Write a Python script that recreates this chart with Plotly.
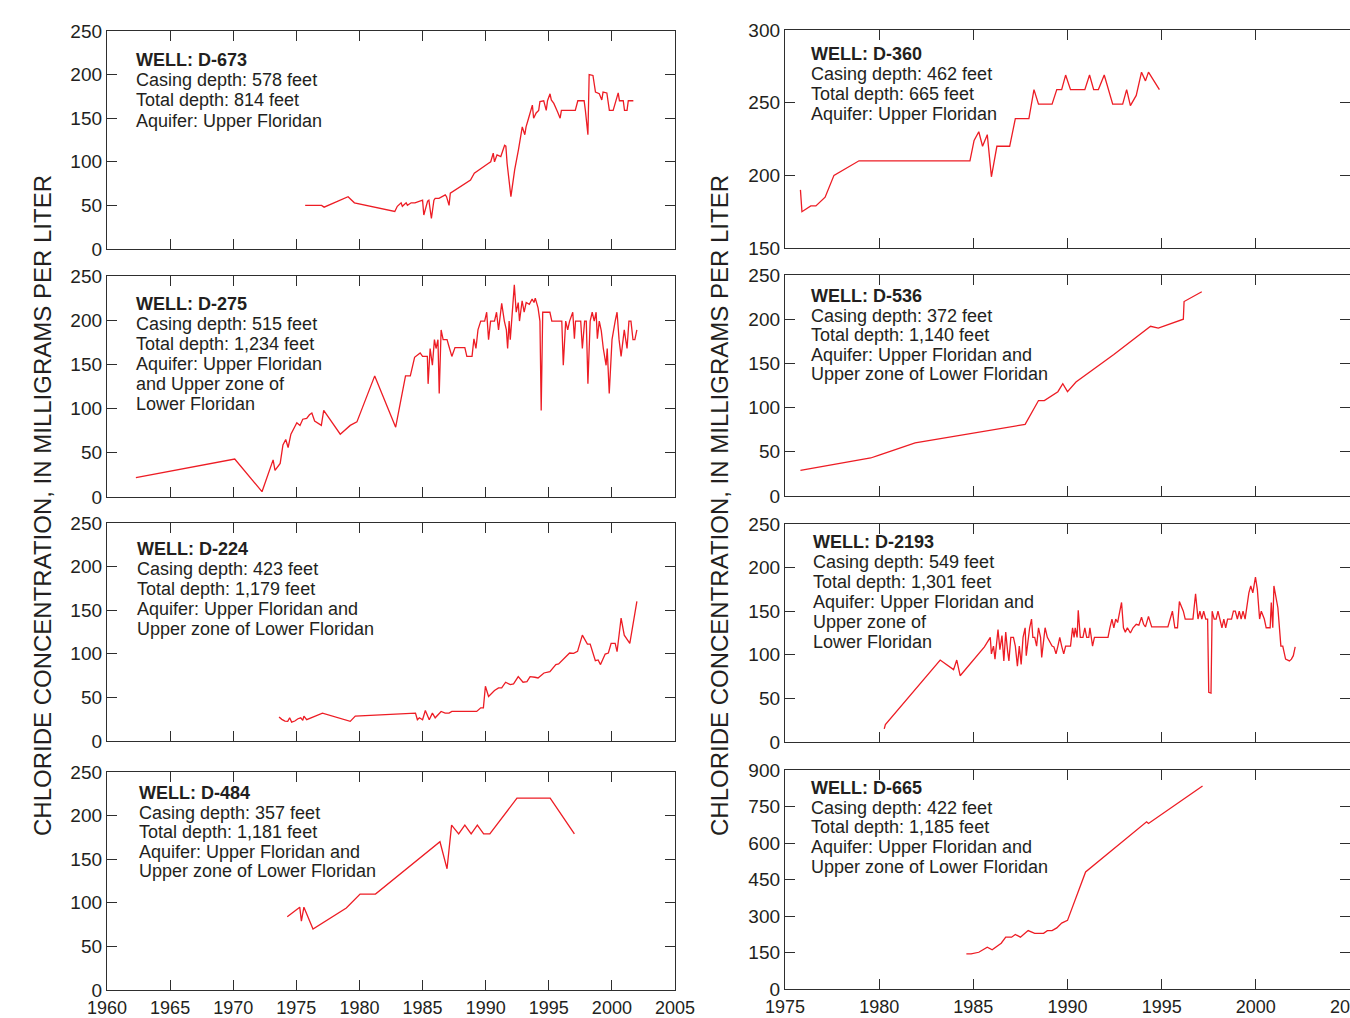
import plotly.graph_objects as go

W, H = 1350, 1018
RED = "#ed1c24"
AXC = "#2e2e2e"
TXT = "#231f20"
FONT = "Liberation Sans, Arial, Helvetica, sans-serif"

# ---------------- data (years, chloride in mg/L) ----------------
d673_years = [1975.7, 1977.0, 1977.2, 1979.1, 1979.6, 1982.8, 1983.0, 1983.3, 1983.4, 1983.7,
              1983.8, 1984.1, 1984.4, 1984.8, 1985.0, 1985.1, 1985.4, 1985.5, 1985.7, 1985.9,
              1986.0, 1986.3, 1986.6, 1986.8, 1986.9, 1987.1, 1987.2, 1987.6, 1987.9, 1988.2,
              1988.5, 1988.8, 1989.1, 1989.3, 1989.6, 1989.9, 1990.2, 1990.4, 1990.6, 1990.7,
              1990.9, 1991.2, 1991.3, 1991.5, 1991.6, 1991.7, 1992.0, 1992.3, 1992.6, 1992.9,
              1993.1, 1993.2, 1993.4, 1993.5, 1993.7, 1993.8, 1994.0, 1994.2, 1994.3, 1994.6,
              1994.8, 1994.9, 1995.1, 1995.2, 1995.4, 1995.7, 1995.9, 1996.0, 1996.3, 1997.1,
              1997.3, 1997.8, 1997.9, 1998.1, 1998.2, 1998.5, 1998.7, 1999.0, 1999.2, 1999.3,
              1999.6, 1999.8, 2000.1, 2000.3, 2000.5, 2000.6, 2000.9, 2001.0, 2001.2, 2001.3,
              2001.7]
d673_values = [50, 50, 48, 60, 53, 43, 49, 53, 49, 53,
               50, 53, 53, 55, 56, 39, 55, 56, 35, 56,
               58, 58, 60, 62, 60, 50, 64, 68, 71, 73,
               76, 79, 87, 89, 93, 95, 98, 100, 110, 100,
               108, 106, 110, 119, 118, 98, 60, 91, 114, 140,
               131, 140, 150, 156, 165, 150, 156, 159, 169, 170,
               159, 170, 178, 171, 167, 157, 150, 159, 159, 159,
               170, 170, 159, 131, 200, 199, 180, 178, 171, 180,
               179, 159, 159, 170, 179, 170, 170, 159, 159, 170,
               170]

d275_years = [1962.29, 1970.12, 1972.28, 1973.16, 1973.31, 1973.72, 1973.94, 1974.16, 1974.35, 1974.57,
              1975.04, 1975.29, 1975.51, 1975.82, 1976.04, 1976.23, 1976.45, 1976.76, 1976.98, 1977.17,
              1978.48, 1979.27, 1979.80, 1981.21, 1982.87, 1983.65, 1984.03, 1984.37, 1984.59, 1984.81,
              1985.00, 1985.38, 1985.44, 1985.60, 1985.78, 1985.94, 1986.07, 1986.22, 1986.32, 1986.47,
              1986.63, 1986.94, 1987.10, 1987.32, 1987.57, 1988.35, 1988.51, 1988.92, 1989.07, 1989.23,
              1989.39, 1989.61, 1989.92, 1990.08, 1990.23, 1990.39, 1990.70, 1990.86, 1991.02, 1991.27,
              1991.48, 1991.64, 1991.74, 1991.86, 1991.95, 1992.11, 1992.27, 1992.42, 1992.58, 1992.68,
              1992.89, 1993.05, 1993.21, 1993.46, 1993.68, 1993.83, 1993.93, 1994.15, 1994.30, 1994.40,
              1994.52, 1995.09, 1995.24, 1995.56, 1996.03, 1996.15, 1996.34, 1996.50, 1996.65, 1996.90,
              1997.03, 1997.12, 1997.53, 1997.66, 1997.84, 1997.97, 1998.10, 1998.28, 1998.44, 1998.60,
              1998.75, 1998.85, 1999.00, 1999.16, 1999.32, 1999.54, 1999.63, 1999.79, 2000.01, 2000.26,
              2000.41, 2000.57, 2000.73, 2000.98, 2001.20, 2001.35, 2001.51, 2001.67, 2001.82, 2001.98]
d275_values = [22, 43, 6, 42, 30, 38, 59, 65, 56, 71,
               84, 81, 88, 89, 93, 95, 86, 83, 81, 98,
               71, 81, 85, 137, 79, 137, 137, 158, 160, 163,
               159, 159, 128, 168, 149, 178, 168, 178, 117, 189,
               178, 178, 170, 159, 169, 169, 159, 159, 179, 168,
               189, 199, 199, 209, 178, 199, 199, 209, 189, 219,
               199, 189, 168, 199, 178, 209, 240, 209, 220, 199,
               222, 209, 220, 218, 224, 220, 225, 214, 199, 98,
               209, 209, 199, 199, 199, 149, 199, 189, 199, 209,
               179, 199, 199, 168, 199, 199, 128, 199, 209, 199,
               209, 179, 199, 188, 168, 149, 168, 117, 178, 199,
               209, 178, 159, 189, 168, 199, 199, 178, 178, 189]

d224_years = [1973.63, 1973.85, 1974.10, 1974.32, 1974.47, 1974.63, 1974.88, 1975.13, 1975.35, 1975.51,
              1975.60, 1975.82, 1977.07, 1979.27, 1979.67, 1984.44, 1984.59, 1984.75, 1985.00, 1985.22,
              1985.53, 1985.78, 1986.00, 1986.47, 1986.79, 1987.10, 1987.32, 1989.29, 1989.61, 1989.82,
              1989.98, 1990.23, 1990.70, 1991.02, 1991.27, 1991.58, 1991.95, 1992.21, 1992.58, 1992.96,
              1993.27, 1993.52, 1993.90, 1994.15, 1994.62, 1995.09, 1995.56, 1995.78, 1996.65, 1996.97,
              1997.28, 1997.66, 1998.06, 1998.28, 1998.69, 1998.91, 1999.10, 1999.47, 1999.72, 1999.94,
              2000.26, 2000.41, 2000.73, 2000.98, 2001.42, 2001.98]
d224_values = [27.5, 24.8, 22.9, 22.5, 26.6, 21.7, 22.9, 25.5, 26.6, 23.6,
               28.5, 24.4, 32, 22.5, 28.5, 32, 24.4, 26.6, 24.4, 35,
               24.4, 32, 26.6, 33.9, 32, 32, 33.9, 33.9, 38, 38,
               62.8, 51, 57.9, 60.9, 60.9, 67.4, 64.7, 65.5, 73.8, 67.4,
               68.1, 73.8, 73.1, 72.3, 78, 79.6, 87.6, 88.3, 100.9, 100.5,
               102.8, 121.4, 111.2, 111.2, 92.1, 92.9, 87.6, 99.7, 100.9, 111.9,
               111.9, 102.4, 141, 121.4, 111.9, 160]

d484_years = [1974.28, 1975.27, 1975.40, 1975.60, 1976.32, 1978.96, 1980.05, 1981.27, 1986.38, 1986.94,
              1987.30, 1987.86, 1988.35, 1988.85, 1989.34, 1989.84, 1990.33, 1992.48, 1995.11, 1997.03]
d484_values = [84, 95, 79, 95, 70, 94, 110, 110, 170, 139,
               189, 179, 189, 179, 189, 179, 179, 220, 220, 179]

d360_years = [1975.82, 1975.90, 1976.37, 1976.64, 1977.13, 1977.60, 1978.93, 1984.82, 1985.04, 1985.29,
              1985.49, 1985.74, 1985.96, 1986.25, 1986.93, 1987.23, 1987.95, 1988.22, 1988.46, 1989.18,
              1989.43, 1989.69, 1989.90, 1990.16, 1990.92, 1991.17, 1991.39, 1991.64, 1991.95, 1992.40,
              1992.93, 1993.14, 1993.34, 1993.65, 1993.93, 1994.14, 1994.30, 1994.88]
d360_values = [190, 175, 179, 179, 185, 200, 210, 210, 224, 230,
               220, 228, 199, 220, 220, 239, 239, 259, 249, 249,
               259, 259, 269, 259, 259, 269, 259, 259, 269, 249,
               249, 259, 248, 255, 271, 265, 271, 259]

d536_years = [1975.82, 1979.55, 1979.96, 1981.91, 1987.75, 1988.46, 1988.77, 1989.49, 1989.75, 1990.00,
              1990.45, 1992.46, 1994.41, 1994.82, 1996.15, 1996.19, 1997.13]
d536_values = [29, 43, 46, 60, 81, 108, 108, 118, 127, 118,
               129, 160, 192, 190, 200, 220, 231]

d2193_years = [1980.27, 1980.33, 1983.24, 1983.95, 1984.12, 1984.30, 1985.59, 1985.90, 1985.96, 1986.07,
               1986.15, 1986.23, 1986.31, 1986.41, 1986.52, 1986.62, 1986.72, 1986.82, 1986.89, 1986.99,
               1987.13, 1987.23, 1987.34, 1987.44, 1987.54, 1987.64, 1987.75, 1987.81, 1987.91, 1987.99,
               1988.09, 1988.16, 1988.26, 1988.36, 1988.46, 1988.57, 1988.63, 1988.73, 1988.81, 1988.93,
               1989.08, 1989.18, 1989.28, 1989.39, 1989.49, 1989.59, 1989.69, 1989.80, 1989.90, 1990.16,
               1990.27, 1990.35, 1990.41, 1990.51, 1990.57, 1990.68, 1990.82, 1990.92, 1991.02, 1991.13,
               1991.19, 1991.33, 1991.43, 1992.15, 1992.25, 1992.36, 1992.46, 1992.56, 1992.66, 1992.77,
               1992.87, 1992.97, 1993.07, 1993.18, 1993.34, 1993.48, 1993.65, 1993.79, 1993.93, 1994.04,
               1994.14, 1994.30, 1994.47, 1995.33, 1995.43, 1995.57, 1995.70, 1995.84, 1995.94, 1996.15,
               1996.25, 1996.66, 1996.80, 1996.93, 1997.03, 1997.13, 1997.23, 1997.34, 1997.44, 1997.50,
               1997.62, 1997.68, 1997.79, 1997.89, 1997.99, 1998.09, 1998.20, 1998.30, 1998.40, 1998.50,
               1998.71, 1998.81, 1998.91, 1999.02, 1999.12, 1999.22, 1999.32, 1999.43, 1999.63, 1999.73,
               1999.84, 1999.98, 2000.08, 2000.20, 2000.29, 2000.45, 2000.55, 2000.76, 2000.82, 2000.90,
               2000.96, 2001.17, 2001.33, 2001.43, 2001.58, 2001.78, 2001.89, 2001.99, 2002.09]
d2193_values = [15, 20, 94, 83, 94, 76, 109, 120, 101, 110,
                95, 114, 129, 106, 122, 93, 126, 104, 93, 120,
                120, 110, 87, 110, 89, 120, 131, 99, 120, 131,
                141, 120, 120, 110, 131, 120, 97, 120, 131, 120,
                114, 110, 109, 101, 110, 120, 110, 101, 110, 110,
                131, 120, 131, 120, 151, 120, 120, 131, 120, 120,
                131, 110, 120, 120, 131, 141, 131, 141, 137, 150,
                160, 131, 126, 131, 125, 131, 135, 134, 143, 135,
                132, 144, 132, 132, 141, 150, 131, 131, 161, 150,
                141, 141, 170, 141, 150, 141, 150, 141, 141, 57,
                56, 150, 141, 141, 150, 141, 131, 141, 131, 141,
                141, 150, 150, 141, 150, 141, 150, 141, 171, 179,
                171, 189, 175, 141, 150, 141, 131, 131, 160, 131,
                179, 154, 110, 110, 95, 93, 95, 99, 109]

d665_years = [1984.63, 1984.88, 1985.29, 1985.74, 1986.00, 1986.48, 1986.72, 1987.03, 1987.23, 1987.50,
              1987.91, 1988.26, 1988.73, 1988.93, 1989.18, 1989.43, 1989.69, 1990.00, 1990.96, 1994.20,
              1994.30, 1997.17]
d665_values = [144, 144, 151, 172, 161, 188, 213, 213, 224, 213,
               240, 229, 229, 240, 240, 251, 271, 282, 481, 687,
               680, 834]

# ---------------- text ----------------
d673_text = ["WELL: D-673", "Casing depth: 578 feet", "Total depth: 814 feet", "Aquifer: Upper Floridan"]
d275_text = ["WELL: D-275", "Casing depth: 515 feet", "Total depth: 1,234 feet", "Aquifer: Upper Floridan",
             "and Upper zone of", "Lower Floridan"]
d224_text = ["WELL: D-224", "Casing depth: 423 feet", "Total depth: 1,179 feet", "Aquifer: Upper Floridan and",
             "Upper zone of Lower Floridan"]
d484_text = ["WELL: D-484", "Casing depth: 357 feet", "Total depth: 1,181 feet", "Aquifer: Upper Floridan and",
             "Upper zone of Lower Floridan"]
d360_text = ["WELL: D-360", "Casing depth: 462 feet", "Total depth: 665 feet", "Aquifer: Upper Floridan"]
d536_text = ["WELL: D-536", "Casing depth: 372 feet", "Total depth: 1,140 feet", "Aquifer: Upper Floridan and",
             "Upper zone of Lower Floridan"]
d2193_text = ["WELL: D-2193", "Casing depth: 549 feet", "Total depth: 1,301 feet", "Aquifer: Upper Floridan and",
              "Upper zone of", "Lower Floridan"]
d665_text = ["WELL: D-665", "Casing depth: 422 feet", "Total depth: 1,185 feet", "Aquifer: Upper Floridan and",
             "Upper zone of Lower Floridan"]

y_title = "CHLORIDE CONCENTRATION, IN MILLIGRAMS PER LITER"

left_x_range = [1960, 2005]
right_x_range = [1975, 2005]

# ---------------- layout geometry (pixels) ----------------
XPX = {0: (107, 675), 1: (785, 1350)}
YPX = {0: [(31, 249), (276, 497), (523, 741), (772, 990)],
       1: [(30, 248), (275, 496), (524, 742), (770, 989)]}

panels = [
    dict(col=0, row=0, x=d673_years, y=d673_values, yr=[0, 250], dy=50, text=d673_text, tx=134, ty=60, tdy=20.2),
    dict(col=0, row=1, x=d275_years, y=d275_values, yr=[0, 250], dy=50, text=d275_text, tx=134, ty=304, tdy=20.0),
    dict(col=0, row=2, x=d224_years, y=d224_values, yr=[0, 250], dy=50, text=d224_text, tx=135, ty=549, tdy=20.0),
    dict(col=0, row=3, x=d484_years, y=d484_values, yr=[0, 250], dy=50, text=d484_text, tx=137, ty=793, tdy=19.6),
    dict(col=1, row=0, x=d360_years, y=d360_values, yr=[150, 300], dy=50, text=d360_text, tx=809, ty=54, tdy=20.0),
    dict(col=1, row=1, x=d536_years, y=d536_values, yr=[0, 250], dy=50, text=d536_text, tx=809, ty=296, tdy=19.6),
    dict(col=1, row=2, x=d2193_years, y=d2193_values, yr=[0, 250], dy=50, text=d2193_text, tx=811, ty=542, tdy=20.0),
    dict(col=1, row=3, x=d665_years, y=d665_values, yr=[0, 900], dy=150, text=d665_text, tx=809, ty=788, tdy=19.7),
]

fig = go.Figure()
layout = dict(
    width=W, height=H,
    margin=dict(l=0, r=0, t=0, b=0, pad=0, autoexpand=False),
    paper_bgcolor="white", plot_bgcolor="white",
    showlegend=False,
    font=dict(family=FONT, size=18, color=TXT),
)
annotations = []

common_axis = dict(showgrid=False, zeroline=False, ticks="inside", ticklen=10, tickwidth=1.3,
                   tickcolor=AXC, linecolor=AXC, linewidth=1.3, fixedrange=True, automargin=False,
                   tickfont=dict(family=FONT, size=19, color=TXT))

extra = 9
for i, p in enumerate(panels):
    n = i + 1
    xa, ya = f"x{n}", f"y{n}"
    xkey, ykey = f"xaxis{n}", f"yaxis{n}"
    col, row = p["col"], p["row"]
    l, r = XPX[col]
    t, b = YPX[col][row]
    xr = left_x_range if col == 0 else right_x_range

    fig.add_trace(go.Scatter(x=p["x"], y=p["y"], mode="lines",
                             line=dict(color=RED, width=1.3),
                             xaxis=xa, yaxis=ya, hoverinfo="skip"))

    layout[xkey] = dict(common_axis, domain=[l / W, r / W], anchor=ya, range=xr,
                        tickmode="linear", tick0=xr[0], dtick=5,
                        showline=True, mirror="ticks",
                        tickfont=dict(family=FONT, size=18, color=TXT),
                        showticklabels=(row == 3), ticklabelstandoff=1,
                        ticklabeloverflow="allow")
    layout[ykey] = dict(common_axis, domain=[1 - b / H, 1 - t / H], anchor=xa, range=p["yr"],
                        tickmode="linear", tick0=p["yr"][0], dtick=p["dy"],
                        showline=True, mirror=("ticks" if col == 0 else False),
                        showticklabels=True, ticklabelstandoff=0)
    if col == 1:
        # right-hand ticks without a visible right border (plot is cut at the page edge)
        okey = f"yaxis{extra}"
        layout[okey] = dict(common_axis, overlaying=ya, side="right", anchor=xa, range=p["yr"],
                            tickmode="linear", tick0=p["yr"][0], dtick=p["dy"],
                            showline=False, showticklabels=False)
        fig.add_trace(go.Scatter(x=[None], y=[None], mode="lines", xaxis=xa, yaxis=f"y{extra}",
                                 hoverinfo="skip", showlegend=False))
        extra += 1

    for j, line in enumerate(p["text"]):
        annotations.append(dict(
            x=p["tx"] / W, y=1 - (p["ty"] + j * p["tdy"]) / H, xref="paper", yref="paper",
            xanchor="left", yanchor="middle", showarrow=False,
            text=(f"<b>{line}</b>" if j == 0 else line),
            font=dict(family=FONT, size=18, color=TXT)))

for xc in (43, 720):
    annotations.append(dict(
        x=xc / W, y=1 - 506 / H, xref="paper", yref="paper", xanchor="center", yanchor="middle",
        showarrow=False, textangle=-90, text=y_title,
        font=dict(family=FONT, size=24, color=TXT)))

layout["annotations"] = annotations
fig.update_layout(**layout)
fig.write_html(
    "out.html",
    config={"displayModeBar": False},
    post_script="document.body.style.margin='0';document.body.style.overflow='hidden';"
                "document.documentElement.style.overflow='hidden';",
)
